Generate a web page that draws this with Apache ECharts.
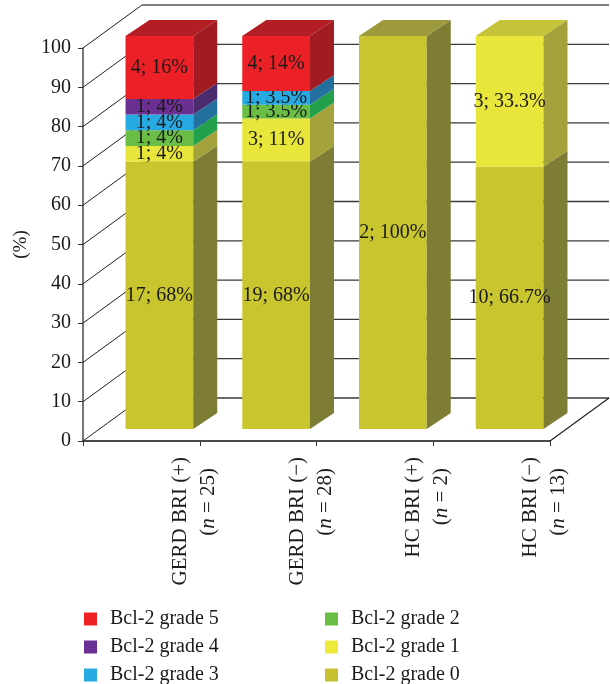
<!DOCTYPE html>
<html>
<head>
<meta charset="utf-8">
<script src="https://cdn.jsdelivr.net/npm/echarts@6/dist/echarts.min.js"></script>
<style>
  html, body { margin: 0; padding: 0; background: #ffffff; }
  #chart { width: 610px; height: 684px; }
</style>
</head>
<body>
<div id="chart"></div>
<script>
// Groups on the x axis and their sizes
const categories = ['GERD BRI (+)', 'GERD BRI (\u2212)', 'HC BRI (+)', 'HC BRI (\u2212)'];
const groupSizes = [25, 28, 2, 13];

// Bcl-2 grades, bottom of the stack first
const gradeNames = ['Bcl-2 grade 0', 'Bcl-2 grade 1', 'Bcl-2 grade 2', 'Bcl-2 grade 3', 'Bcl-2 grade 4', 'Bcl-2 grade 5'];

// Percentage of each group per grade
const pctGrade0 = [68, 68, 100, 66.7];
const pctGrade1 = [4, 11, 0, 33.3];
const pctGrade2 = [4, 3.5, 0, 0];
const pctGrade3 = [4, 3.5, 0, 0];
const pctGrade4 = [4, 0, 0, 0];
const pctGrade5 = [16, 14, 0, 0];

// Patient counts per grade
const countGrade0 = [17, 19, 2, 10];
const countGrade1 = [1, 3, 0, 3];
const countGrade2 = [1, 1, 0, 0];
const countGrade3 = [1, 1, 0, 0];
const countGrade4 = [1, 0, 0, 0];
const countGrade5 = [4, 4, 0, 0];

// Value axis ticks
const yTicks = [0, 10, 20, 30, 40, 50, 60, 70, 80, 90, 100];

const pctByGrade = [pctGrade0, pctGrade1, pctGrade2, pctGrade3, pctGrade4, pctGrade5];
const countByGrade = [countGrade0, countGrade1, countGrade2, countGrade3, countGrade4, countGrade5];

// Face colours of the boxes: front, side, top
const faceColors = [
  { front: '#c8c52f', side: '#7e7d35', top: '#9c9a3c' },
  { front: '#e9e63b', side: '#a4a23a', top: '#c5c33a' },
  { front: '#6abd45', side: '#22a04b', top: '#3f9e45' },
  { front: '#27a9e1', side: '#23709f', top: '#2a85b8' },
  { front: '#6b3092', side: '#4a2b6e', top: '#56307c' },
  { front: '#ec2027', side: '#a11c22', top: '#b21e24' }
];
const legendColors = ['#c6c22f', '#eeea3c', '#6abd45', '#27a9e1', '#6a3093', '#ee2224'];

const SERIF = '"Liberation Serif", "DejaVu Serif", serif';

// Perspective offsets (pixels)
const WALL_DX = 59, WALL_DY = -43;     // depth of the floor / back wall
const BAR_DX = 18, BAR_DY = -12;       // bar front plane relative to axis plane
const BOX_DX = 24, BOX_DY = -16;       // depth of a box
const BAR_WIDTH_RATIO = 0.58;

// Stack bases and totals
const stackTotals = categories.map((c, i) => pctByGrade.reduce((s, arr) => s + arr[i], 0));
const seriesData = pctByGrade.map((arr, g) => arr.map((v, i) => {
  let base = 0;
  for (let k = 0; k < g; k++) base += pctByGrade[k][i];
  return [i, base, base + v, countByGrade[g][i], v];
}));

function makeBoxRenderer(g) {
  const col = faceColors[g];
  return function (params, api) {
    const cat = api.value(0), lo = api.value(1), hi = api.value(2);
    if (!(hi - lo > 0)) return null;
    const bw = api.size([1, 0])[0] * BAR_WIDTH_RATIO;
    const pLo = api.coord([cat, lo]);
    const pHi = api.coord([cat, hi]);
    const x0 = pLo[0] - bw / 2 + BAR_DX;
    const x1 = x0 + bw;
    const yb = pLo[1] + BAR_DY;
    const yt = pHi[1] + BAR_DY;
    const children = [
      { type: 'rect', shape: { x: x0, y: yt, width: bw, height: yb - yt }, style: { fill: col.front } },
      { type: 'polygon', shape: { points: [[x1, yb], [x1, yt], [x1 + BOX_DX, yt + BOX_DY], [x1 + BOX_DX, yb + BOX_DY]] }, style: { fill: col.side } }
    ];
    if (hi >= stackTotals[cat] - 1e-6) {
      children.push({ type: 'polygon', shape: { points: [[x0, yt], [x1, yt], [x1 + BOX_DX, yt + BOX_DY], [x0 + BOX_DX, yt + BOX_DY]] }, style: { fill: col.top } });
    }
    children.push({
      type: 'text',
      x: (x0 + x1) / 2, y: (yt + yb) / 2,
      style: {
        text: api.value(3) + '; ' + api.value(4) + '%',
        fill: '#1a1a1a', font: '20px ' + SERIF,
        align: 'center', verticalAlign: 'middle'
      }
    });
    return { type: 'group', children: children };
  };
}

// Floor, side wall and back wall grid lines
function renderWalls(params, api) {
  const cs = params.coordSys;
  const v = api.value(0);
  const y = api.coord([0, v])[1];
  const xl = cs.x, xr = cs.x + cs.width;
  const isTop = v === yTicks[yTicks.length - 1];
  const children = [
    { type: 'line', shape: { x1: xl, y1: y, x2: xl + WALL_DX, y2: y + WALL_DY }, style: { stroke: '#222', lineWidth: 1 } },
    { type: 'line', shape: { x1: xl + WALL_DX, y1: y + WALL_DY, x2: xr + WALL_DX, y2: y + WALL_DY },
      style: { stroke: isTop ? '#808080' : '#3a3a3a', lineWidth: isTop ? 2 : 1.3 } }
  ];
  if (v === yTicks[0]) {
    children.push({ type: 'line', shape: { x1: xr, y1: y, x2: xr + WALL_DX, y2: y + WALL_DY }, style: { stroke: '#222', lineWidth: 1.2 } });
  }
  return { type: 'group', children: children };
}

const boxSeries = gradeNames.map((name, g) => ({
  name: name,
  type: 'custom',
  xAxisIndex: 0, yAxisIndex: 0,
  clip: false,
  z: 10 + g,
  itemStyle: { color: legendColors[g] },
  renderItem: makeBoxRenderer(g),
  encode: { x: 0, y: [1, 2] },
  data: seriesData[g]
}));

const legendBase = {
  top: 609, orient: 'vertical', padding: 0, height: 90,
  itemWidth: 13, itemHeight: 13, itemGap: 8, icon: 'rect',
  textStyle: { fontFamily: SERIF, fontSize: 20, color: '#1a1a1a', lineHeight: 19, padding: [0, 0, 0, 8] }
};

const option = {
  animation: false,
  backgroundColor: '#ffffff',
  grid: [
    { left: 83, right: 60, top: 48, bottom: 243 },
    { left: 136, right: 7, top: 48, bottom: 243 }
  ],
  xAxis: [
    {
      type: 'category', gridIndex: 0, data: categories,
      axisLine: { show: true, lineStyle: { color: '#4a4a4a', width: 2 } },
      axisTick: { show: true, length: 5, lineStyle: { color: '#333' } },
      axisLabel: { show: false }
    },
    {
      type: 'category', gridIndex: 1,
      data: categories.map((c, i) => c + '\n({i|n} = ' + groupSizes[i] + '{e|)}'),
      axisLine: { show: false }, axisTick: { show: false },
      axisLabel: {
        rotate: 90, margin: 16, interval: 0,
        fontFamily: SERIF, fontSize: 21, lineHeight: 28, color: '#1a1a1a',
        rich: {
          i: { fontFamily: SERIF, fontSize: 21, fontStyle: 'italic', color: '#1a1a1a', lineHeight: 28 },
          e: { fontFamily: SERIF, fontSize: 21, color: '#1a1a1a', lineHeight: 28, padding: [0, 11, 0, 0] }
        }
      }
    }
  ],
  yAxis: [
    {
      type: 'value', gridIndex: 0, min: 0, max: 100, interval: 10,
      name: '(%)', nameLocation: 'middle', nameGap: 45, nameRotate: 90,
      nameTextStyle: { fontFamily: SERIF, fontSize: 19, color: '#1a1a1a' },
      axisLine: { show: true, lineStyle: { color: '#4a4a4a', width: 1.5 } },
      axisTick: { show: true, length: 5, lineStyle: { color: '#333' } },
      axisLabel: { margin: 12, fontFamily: SERIF, fontSize: 20, color: '#1a1a1a' },
      splitLine: { show: false }
    },
    {
      type: 'value', gridIndex: 1, min: 0, max: 100, show: false
    }
  ],
  legend: [
    Object.assign({}, legendBase, { left: 84, data: ['Bcl-2 grade 5', 'Bcl-2 grade 4', 'Bcl-2 grade 3'] }),
    Object.assign({}, legendBase, { left: 325, data: ['Bcl-2 grade 2', 'Bcl-2 grade 1', 'Bcl-2 grade 0'] })
  ],
  series: [
    {
      type: 'custom', name: 'walls', xAxisIndex: 0, yAxisIndex: 0,
      clip: false, z: 1, silent: true,
      renderItem: renderWalls,
      encode: { y: 0 },
      data: yTicks.map(v => [v])
    }
  ].concat(boxSeries)
};

const chart = echarts.init(document.getElementById('chart'), null, { renderer: 'canvas' });
chart.setOption(option);
</script>
</body>
</html>
